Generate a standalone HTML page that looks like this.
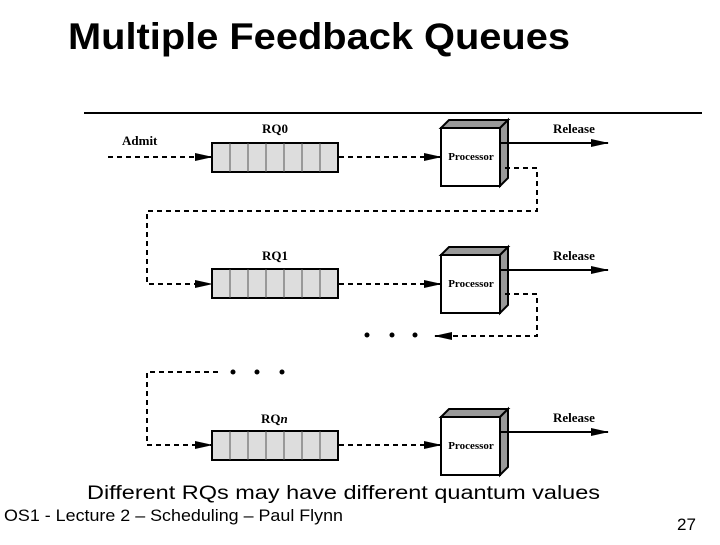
<!DOCTYPE html>
<html><head><style>
body{margin:0;width:720px;height:540px;background:#fff;overflow:hidden;font-family:"Liberation Sans",sans-serif}
</style></head><body>
<svg width="720" height="540" viewBox="0 0 720 540" xmlns="http://www.w3.org/2000/svg">
<defs>
<marker id="a" markerWidth="18" markerHeight="8" refX="17" refY="4" orient="auto" markerUnits="userSpaceOnUse"><path d="M0,0 L18,4 L0,8 Z" fill="#000"/></marker>
<g id="q"><rect x="0" y="0" width="126" height="29" fill="#ddd" stroke="#000" stroke-width="2"/>
<path d="M18,0V29M36,0V29M54,0V29M72,0V29M90,0V29M108,0V29" stroke="#555" stroke-width="1"/></g>
<g id="p"><polygon points="0,0 8,-8 67,-8 59,0" fill="#999" stroke="#000" stroke-width="2"/>
<polygon points="59,0 67,-8 67,50 59,58" fill="#999" stroke="#000" stroke-width="2"/>
<rect x="0" y="0" width="59" height="58" fill="#fff" stroke="#000" stroke-width="2"/>
<text x="30" y="32" font-family="Liberation Serif,serif" font-weight="bold" font-size="11" text-anchor="middle">Processor</text></g>
</defs>
<text x="68" y="49" font-size="37" font-weight="bold" textLength="502" lengthAdjust="spacingAndGlyphs">Multiple Feedback Queues</text>
<line x1="84" y1="113" x2="702" y2="113" stroke="#000" stroke-width="2"/>
<g font-family="Liberation Serif,serif" font-weight="bold" font-size="13">
<text x="122" y="145">Admit</text>
<text x="262" y="133">RQ0</text>
<text x="262" y="260">RQ1</text>
<text x="261" y="423">RQ<tspan font-style="italic">n</tspan></text>
<text x="553" y="133">Release</text>
<text x="553" y="260">Release</text>
<text x="553" y="422">Release</text>
</g>
<use href="#q" x="212" y="143"/><use href="#q" x="212" y="269"/><use href="#q" x="212" y="431"/>
<use href="#p" x="441" y="128"/><use href="#p" x="441" y="255"/><use href="#p" x="441" y="417"/>
<g stroke="#000" stroke-width="2" fill="none">
<line x1="500" y1="143" x2="608" y2="143" marker-end="url(#a)"/>
<line x1="500" y1="270" x2="608" y2="270" marker-end="url(#a)"/>
<line x1="500" y1="432" x2="608" y2="432" marker-end="url(#a)"/>
<g stroke-dasharray="5,4">
<line x1="108" y1="157" x2="212" y2="157" marker-end="url(#a)"/>
<line x1="339" y1="157" x2="441" y2="157" marker-end="url(#a)"/>
<polyline points="505,168 537,168 537,211 147,211 147,284 212,284" marker-end="url(#a)"/>
<line x1="339" y1="284" x2="441" y2="284" marker-end="url(#a)"/>
<polyline points="505,294 537,294 537,336 435,336" marker-end="url(#a)"/>
<polyline points="218,372 147,372 147,445 212,445" marker-end="url(#a)"/>
<line x1="339" y1="445" x2="441" y2="445" marker-end="url(#a)"/>
</g></g>
<g fill="#000"><circle cx="367" cy="335" r="2.5"/><circle cx="392" cy="335" r="2.5"/><circle cx="415" cy="335" r="2.5"/>
<circle cx="233" cy="372" r="2.5"/><circle cx="257" cy="372" r="2.5"/><circle cx="282" cy="372" r="2.5"/></g>
<text x="87" y="499" font-size="19" textLength="513" lengthAdjust="spacingAndGlyphs">Different RQs may have different quantum values</text>
<text x="4" y="521" font-size="17" textLength="339" lengthAdjust="spacingAndGlyphs">OS1 - Lecture 2 – Scheduling – Paul Flynn</text>
<text x="677" y="530" font-size="17">27</text>
</svg>
</body></html>
